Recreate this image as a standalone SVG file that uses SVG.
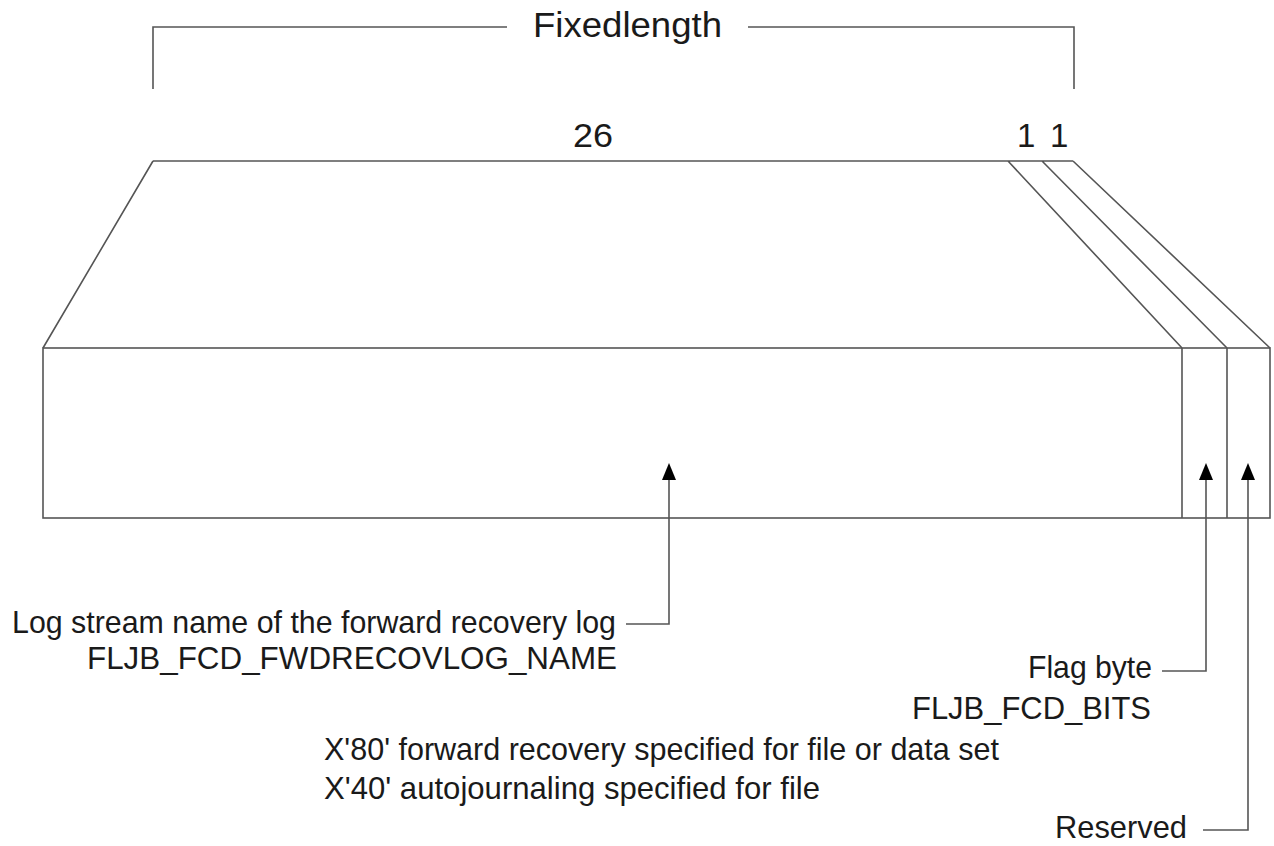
<svg xmlns="http://www.w3.org/2000/svg" width="1274" height="846" viewBox="0 0 1274 846">
<style>
.ln{stroke:#555;stroke-width:1.6;fill:none}
.t{font-family:"Liberation Sans",Arial,sans-serif;fill:#1a1a1a}
.ah{fill:#000}
</style>
<rect width="1274" height="846" fill="#fff"/>
<g id="bracket">
<path class="ln" d="M153,89 V27 H507 M748,27 H1074 V89"/>
<text class="t" x="533" y="37" font-size="35" textLength="189" lengthAdjust="spacingAndGlyphs">Fixedlength</text>
</g>
<g id="record">
<path class="ln" d="M153,161 H1073 M153,161 L43,348 M1008,161 L1182,348 M1042,161 L1227,348 M1073,161 L1270,348"/>
<rect class="ln" x="43" y="348" width="1227" height="170"/>
<path class="ln" d="M1182,348 V518 M1227,348 V518"/>
<text class="t" x="573" y="147" font-size="33" textLength="40" lengthAdjust="spacingAndGlyphs">26</text>
<text class="t" x="1017" y="147" font-size="33">1</text>
<text class="t" x="1050" y="147" font-size="33">1</text>
</g>
<g id="connectors">
<path class="ln" d="M669,478 V624 H626"/>
<polygon class="ah" points="669,463 662,480 676,480"/>
<path class="ln" d="M1206,478 V671 H1162"/>
<polygon class="ah" points="1206,463 1199,480 1213,480"/>
<path class="ln" d="M1248,478 V830 H1203"/>
<polygon class="ah" points="1248,463 1241,480 1255,480"/>
</g>
<g id="label-logname">
<text class="t" x="12" y="633" font-size="32" textLength="604" lengthAdjust="spacingAndGlyphs">Log stream name of the forward recovery log</text>
<text class="t" x="87" y="669" font-size="32" textLength="530" lengthAdjust="spacingAndGlyphs">FLJB_FCD_FWDRECOVLOG_NAME</text>
</g>
<g id="label-flag">
<text class="t" x="1028" y="678" font-size="32" textLength="124" lengthAdjust="spacingAndGlyphs">Flag byte</text>
<text class="t" x="912" y="719" font-size="32" textLength="239" lengthAdjust="spacingAndGlyphs">FLJB_FCD_BITS</text>
<text class="t" x="324" y="760" font-size="32" textLength="675" lengthAdjust="spacingAndGlyphs">X'80' forward recovery specified for file or data set</text>
<text class="t" x="324" y="799" font-size="32" textLength="496" lengthAdjust="spacingAndGlyphs">X'40' autojournaling specified for file</text>
</g>
<g id="label-reserved">
<text class="t" x="1055" y="838" font-size="32" textLength="132" lengthAdjust="spacingAndGlyphs">Reserved</text>
</g>
</svg>
